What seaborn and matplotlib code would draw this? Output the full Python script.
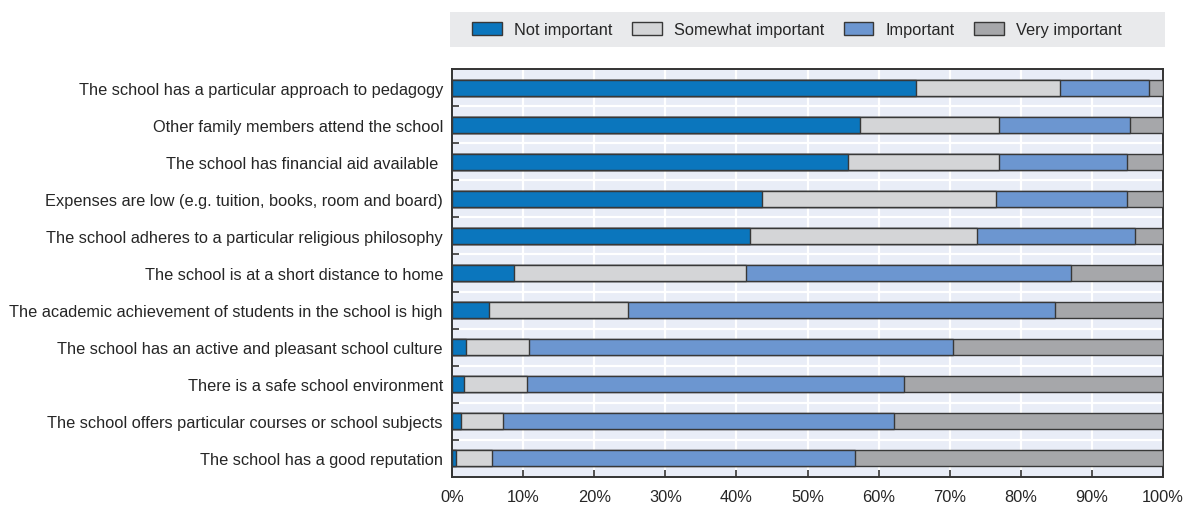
import matplotlib
matplotlib.use("Agg")
import matplotlib.pyplot as plt
import matplotlib.patches as mpatches
from matplotlib.ticker import FixedLocator, PercentFormatter
import seaborn as sns
import pandas as pd
import numpy as np

categories = [
    "The school has a particular approach to pedagogy",
    "Other family members attend the school",
    "The school has financial aid available ",
    "Expenses are low (e.g. tuition, books, room and board)",
    "The school adheres to a particular religious philosophy",
    "The school is at a short distance to home",
    "The academic achievement of students in the school is high",
    "The school has an active and pleasant school culture",
    "There is a safe school environment",
    "The school offers particular courses or school subjects",
    "The school has a good reputation",
]
not_important = [65.2, 57.4, 55.7, 43.6, 41.9, 8.7, 5.2, 1.9, 1.7, 1.3, 0.6]
somewhat_important = [20.3, 19.6, 21.2, 32.9, 31.9, 32.7, 19.6, 8.9, 8.8, 5.9, 5.0]
important = [12.6, 18.4, 18.1, 18.4, 22.3, 45.7, 60.0, 59.7, 53.1, 54.9, 51.1]
very_important = [1.9, 4.6, 5.0, 5.1, 3.9, 12.9, 15.2, 29.5, 36.4, 37.9, 43.3]

series_names = ["Not important", "Somewhat important", "Important", "Very important"]
series_values = [not_important, somewhat_important, important, very_important]
colors = ["#0b76bd", "#d4d5d7", "#6c96d0", "#a6a7aa"]

df = pd.DataFrame({"category": categories})
cum = np.zeros(len(categories))
for name, vals in zip(series_names, series_values):
    cum = cum + np.array(vals)
    df[name] = cum.copy()

sns.set_theme(style="white")
plt.rcParams["font.family"] = ["Liberation Sans", "DejaVu Sans"]
plt.rcParams["text.color"] = "#262626"

fig = plt.figure(figsize=(11.84, 5.10), dpi=100)
ax = fig.add_axes([452 / 1184, 1 - 478 / 510, (1163 - 452) / 1184, (478 - 70) / 510])
ax.set_facecolor("#e9edf7")

# draw from the longest cumulative to the shortest
for name, color in reversed(list(zip(series_names, colors))):
    sns.barplot(data=df, x=name, y="category", order=categories, color=color,
                saturation=1, orient="h", width=0.43, edgecolor="#383838",
                linewidth=1.0, ax=ax, zorder=3)

ax.set_xlim(0, 100)
ax.set_ylim(len(categories) - 0.5, -0.5)
ax.set_xlabel("")
ax.set_ylabel("")
ax.xaxis.set_major_locator(FixedLocator(np.arange(0, 101, 10)))
ax.xaxis.set_major_formatter(PercentFormatter(decimals=0))
ax.yaxis.set_minor_locator(FixedLocator(np.arange(0.5, len(categories) - 0.5, 1)))

ax.grid(False)
ax.xaxis.grid(True, which="major", color="white", linewidth=1.6, zorder=1)
ax.yaxis.grid(True, which="minor", color="white", linewidth=1.6, zorder=1)
ax.set_axisbelow(True)

ax.tick_params(axis="x", which="major", direction="in", length=5, width=1.2,
               color="#333333", labelsize=11.8, labelcolor="#262626", pad=9, bottom=True)
ax.tick_params(axis="y", which="major", length=0, labelsize=11.8, labelcolor="#262626", pad=6.5)
ax.tick_params(axis="y", which="minor", direction="in", length=5, width=1.2,
               color="#333333", left=True)

for s in ax.spines.values():
    s.set_visible(True)
    s.set_color("#333333")
    s.set_linewidth(1.4)

# legend background box
fig.patches.append(mpatches.Rectangle((450 / 1184, 1 - 48 / 510), 715 / 1184, 35 / 510,
                                      transform=fig.transFigure, facecolor="#e9eaec",
                                      edgecolor="none", zorder=0))
handles = [mpatches.Patch(facecolor=c, edgecolor="#383838", linewidth=1.0, label=n)
           for n, c in zip(series_names, colors)]
fig.legend(handles=handles, loc="center", bbox_to_anchor=(797 / 1184, 1 - 30.5 / 510),
           ncol=4, frameon=False, fontsize=11.8, handlelength=1.8, handleheight=0.85,
           handletextpad=0.75, columnspacing=1.2)

fig.savefig("out.png", dpi=100)
